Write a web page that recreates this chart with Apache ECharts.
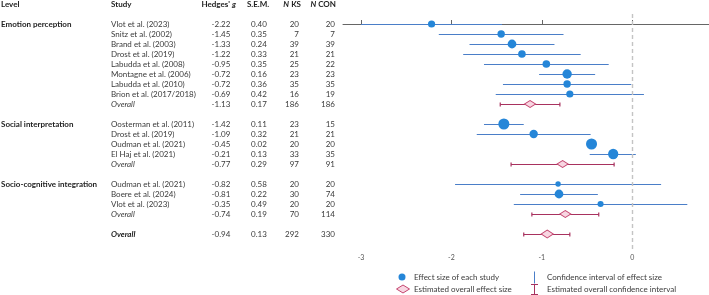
<!DOCTYPE html>
<html>
<head>
<meta charset="utf-8">
<script src="https://cdn.jsdelivr.net/npm/echarts@6/dist/echarts.min.js"></script>
<style>
  html, body { margin: 0; padding: 0; background: #fff; }
  #chart { width: 709px; height: 295px; }
</style>
</head>
<body>
<div id="chart"></div>
<script>
const levelNames = ['Emotion perception', 'Social interpretation', 'Socio-cognitive integration']

const studyNames = [
  'Vlot et al. (2023)', 'Snitz et al. (2002)', 'Brand et al. (2003)', 'Drost et al. (2019)',
  'Labudda et al. (2008)', 'Montagne et al. (2006)', 'Labudda et al. (2010)', 'Brion et al. (2017/2018)',
  'Oosterman et al. (2011)', 'Drost et al. (2019)', 'Oudman et al. (2021)', 'El Haj et al. (2021)',
  'Oudman et al. (2021)', 'Boere et al. (2024)', 'Vlot et al. (2023)',
]
const studyLevel = [0, 0, 0, 0, 0, 0, 0, 0, 1, 1, 1, 1, 2, 2, 2]
const hedgesG = [-2.22, -1.45, -1.33, -1.22, -0.95, -0.72, -0.72, -0.69, -1.42, -1.09, -0.45, -0.21, -0.82, -0.81, -0.35]
const sem = [0.40, 0.35, 0.24, 0.33, 0.35, 0.16, 0.36, 0.42, 0.11, 0.32, 0.02, 0.13, 0.58, 0.22, 0.49]
const nKS = [20, 7, 39, 21, 25, 23, 35, 16, 23, 21, 20, 33, 20, 30, 20]
const nCON = [20, 7, 39, 21, 22, 23, 35, 19, 15, 21, 20, 35, 20, 74, 20]
const ciLow = [-3.00, -2.14, -1.80, -1.87, -1.64, -1.03, -1.43, -1.51, -1.64, -1.72, -0.49, -0.47, -1.96, -1.24, -1.31]
const ciHigh = [-1.44, -0.76, -0.86, -0.57, -0.26, -0.41, -0.01, 0.13, -1.20, -0.46, -0.41, 0.04, 0.32, -0.38, 0.61]
const weights = [9, 10, 17, 11, 11, 21, 10, 9, 33, 15, 33, 27, 3, 17, 5]

// per-level pooled estimates
const levelG = [-1.13, -0.77, -0.74]
const levelSEM = [0.17, 0.29, 0.19]
const levelNKS = [186, 97, 70]
const levelNCON = [186, 91, 114]
const levelCILow = [-1.46, -1.34, -1.11]
const levelCIHigh = [-0.80, -0.20, -0.37]

// total pooled estimate
const totalG = -0.94
const totalSEM = 0.13
const totalNKS = 292
const totalNCON = 330
const totalCI = [-1.20, -0.69]

const xTicks = [-3, -2, -1, 0]

// build table rows in plot order
const rows = []
let r = 0
levelNames.forEach((lv, li) => {
  let first = true
  studyNames.forEach((s, i) => {
    if (studyLevel[i] !== li) return
    rows.push({ row: r++, kind: 'study', level: first ? lv : '', study: s, g: hedgesG[i], sem: sem[i],
      nks: nKS[i], ncon: nCON[i], lo: ciLow[i], hi: ciHigh[i], w: weights[i] })
    first = false
  })
  rows.push({ row: r++, kind: 'overall', level: '', study: 'Overall', g: levelG[li], sem: levelSEM[li],
    nks: levelNKS[li], ncon: levelNCON[li], lo: levelCILow[li], hi: levelCIHigh[li] })
  r++
})
rows.push({ row: r, kind: 'total', level: '', study: 'Overall', g: totalG, sem: totalSEM,
  nks: totalNKS, ncon: totalNCON, lo: totalCI[0], hi: totalCI[1] })

const studyRows = rows.filter(d => d.kind === 'study')
const pooledRows = rows.filter(d => d.kind !== 'study')

const FONT = 'Lato'
const TXT = '#3a3a3a'
const BLUE = '#2586d8'
const CI_BLUE = '#4a7ec8'
const CRIMSON = '#a8325f'
const fmt = v => v.toFixed(2)

const chart = echarts.init(document.getElementById('chart'))

const textEl = (x, y, text, align, extra) => ({
  type: 'text',
  x, y,
  style: Object.assign({
    text, fill: TXT, fontFamily: FONT, fontSize: 8,
    align, verticalAlign: 'middle',
  }, extra || {}),
})

const boldRich = {
  b: { fontWeight: 'bold', fontSize: 8, fontFamily: FONT, fill: '#222' },
  i: { fontWeight: 'bold', fontStyle: 'italic', fontSize: 8, fontFamily: FONT, fill: '#222' },
}

const option = {
  animation: false,
  grid: { left: 343, right: 0, top: 4, bottom: 45 },
  xAxis: {
    type: 'value',
    min: -3.2,
    max: 0.85,
    axisLine: { lineStyle: { color: '#666', width: 1 } },
    axisTick: { inside: true, length: 4, customValues: xTicks, lineStyle: { color: '#666' } },
    axisLabel: { customValues: xTicks, color: '#555', fontSize: 7, fontFamily: FONT, margin: 4 },
    splitLine: { show: false },
  },
  yAxis: { type: 'value', inverse: true, min: -2, max: 22.6, show: false },
  series: [
    {
      // study confidence intervals
      type: 'custom',
      name: 'Confidence interval of effect size',
      data: studyRows.map(d => [d.lo, d.hi, d.row]),
      renderItem: (params, api) => {
        const a = api.coord([api.value(0), api.value(2)])
        const b = api.coord([api.value(1), api.value(2)])
        return { type: 'line', shape: { x1: a[0], y1: a[1] + 0.5, x2: b[0], y2: b[1] + 0.5 },
          style: { stroke: CI_BLUE, lineWidth: 1.2 } }
      },
      z: 2,
    },
    {
      // pooled confidence intervals
      type: 'custom',
      name: 'Estimated overall confidence interval',
      data: pooledRows.map(d => [d.lo, d.hi, d.row]),
      renderItem: (params, api) => {
        const a = api.coord([api.value(0), api.value(2)])
        const b = api.coord([api.value(1), api.value(2)])
        const st = { stroke: CRIMSON, lineWidth: 1.2 }
        const y = a[1] + 0.5
        return { type: 'group', children: [
          { type: 'line', shape: { x1: a[0], y1: y, x2: b[0], y2: y }, style: st },
          { type: 'line', shape: { x1: a[0], y1: y - 2, x2: a[0], y2: y + 2 }, style: st },
          { type: 'line', shape: { x1: b[0], y1: y - 2, x2: b[0], y2: y + 2 }, style: st },
        ] }
      },
      z: 2,
    },
    {
      type: 'scatter',
      name: 'Effect size of each study',
      data: studyRows.map(d => [d.g, d.row, d.w]),
      symbolSize: v => 3 + Math.sqrt(v[2]) * 1.4,
      itemStyle: { color: BLUE, opacity: 1 },
      z: 4,
      markLine: {
        silent: true,
        symbol: 'none',
        label: { show: false },
        lineStyle: { color: '#c4c4c4', type: [4, 3], width: 1.4 },
        data: [[{ coord: [0, -1] }, { coord: [0, 22.6] }]],
      },
    },
    {
      type: 'scatter',
      name: 'Estimated overall effect size',
      data: pooledRows.map(d => [d.g, d.row, d.kind === 'total' ? 1 : 0]),
      symbol: 'diamond',
      symbolSize: v => (v[2] ? [12, 8] : [11, 7]),
      itemStyle: { color: '#f8d6e2', borderColor: '#c4456f', borderWidth: 1, opacity: 1 },
      z: 5,
    },
    {
      // table on the left
      type: 'custom',
      name: 'table',
      silent: true,
      data: rows.map((d, i) => [0, d.row, i]).concat([[0, -2, -1]]),
      renderItem: (params, api) => {
        const idx = api.value(2)
        const y = api.coord([0, api.value(1)])[1]
        if (idx < 0) {
          const hb = { fontWeight: 'bold', fill: '#222' }
          return { type: 'group', children: [
            textEl(1, y, 'Level', 'left', hb),
            textEl(111, y, 'Study', 'left', hb),
            textEl(236, y, "{b|Hedges'} {i|g}", 'right', { rich: boldRich }),
            textEl(258, y, 'S.E.M.', 'center', hb),
            textEl(301, y, '{i|N} {b|KS}', 'right', { rich: boldRich }),
            textEl(336, y, '{i|N} {b|CON}', 'right', { rich: boldRich }),
          ] }
        }
        const d = rows[idx]
        const studyStyle = d.kind === 'overall' ? { fontStyle: 'italic' }
          : d.kind === 'total' ? { fontStyle: 'italic', fontWeight: 'bold', fill: '#222' } : {}
        const children = [
          textEl(111, y, d.study, 'left', studyStyle),
          textEl(221, y, fmt(d.g), 'center'),
          textEl(259, y, fmt(d.sem), 'center'),
          textEl(299, y, String(d.nks), 'right'),
          textEl(335, y, String(d.ncon), 'right'),
        ]
        if (d.level) children.push(textEl(1, y, d.level, 'left', { fontWeight: 'bold', fill: '#222' }))
        return { type: 'group', children }
      },
      z: 6,
    },
  ],
  graphic: [
    { type: 'circle', shape: { cx: 402, cy: 277, r: 3.5 }, style: { fill: BLUE } },
    { type: 'text', x: 414, y: 277, style: { text: 'Effect size of each study', fill: TXT, fontFamily: FONT, fontSize: 8, verticalAlign: 'middle' } },
    { type: 'polygon', shape: { points: [[396.5, 289], [403, 285], [409.5, 289], [403, 293]] },
      style: { fill: '#f8d6e2', stroke: '#c4456f', lineWidth: 1 } },
    { type: 'text', x: 414, y: 289, style: { text: 'Estimated overall effect size', fill: TXT, fontFamily: FONT, fontSize: 8, verticalAlign: 'middle' } },
    { type: 'line', shape: { x1: 534.5, y1: 271.5, x2: 534.5, y2: 283.5 }, style: { stroke: CI_BLUE, lineWidth: 1 } },
    { type: 'text', x: 547, y: 277, style: { text: 'Confidence interval of effect size', fill: TXT, fontFamily: FONT, fontSize: 8, verticalAlign: 'middle' } },
    { type: 'line', shape: { x1: 534.5, y1: 284.5, x2: 534.5, y2: 294.5 }, style: { stroke: CRIMSON, lineWidth: 1 } },
    { type: 'line', shape: { x1: 531, y1: 284.5, x2: 538, y2: 284.5 }, style: { stroke: CRIMSON, lineWidth: 1 } },
    { type: 'line', shape: { x1: 531, y1: 294.5, x2: 538, y2: 294.5 }, style: { stroke: CRIMSON, lineWidth: 1 } },
    { type: 'text', x: 547, y: 289, style: { text: 'Estimated overall confidence interval', fill: TXT, fontFamily: FONT, fontSize: 8, verticalAlign: 'middle' } },
  ],
}

chart.setOption(option)
window.addEventListener('resize', () => chart.resize())
</script>
</body>
</html>
